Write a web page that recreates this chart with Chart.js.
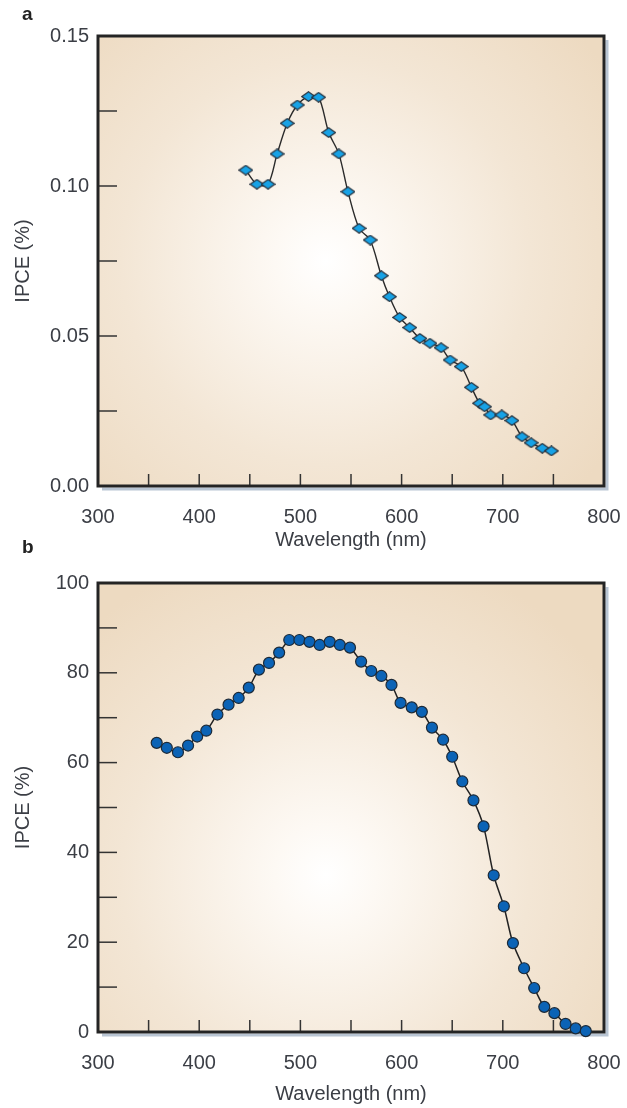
<!DOCTYPE html>
<html>
<head>
<meta charset="utf-8">
<script src="https://cdn.jsdelivr.net/npm/chart.js@4"></script>
<style>
  html, body { margin: 0; padding: 0; background: #fff; }
  body { width: 627px; height: 1108px; position: relative; overflow: hidden; }
  .panel { position: absolute; left: 0; width: 627px; }
  .tag { position: absolute; left: 22px; font: bold 19px "Liberation Sans", Arial, sans-serif; color: #222; }
</style>
</head>
<body>
<div class="panel" style="top:0;height:552px"><canvas id="chartA"></canvas></div>
<div class="panel" style="top:552px;height:556px"><canvas id="chartB"></canvas></div>
<div class="tag" style="top:3px">a</div>
<div class="tag" style="top:536px">b</div>
<script>
// ---- data ----
const wavelengthA = [446, 457, 468, 477, 487, 497, 508, 518, 528, 538, 547, 558, 569, 580, 588, 598,
                     608, 618, 628, 639, 648, 659, 669, 677, 682, 688, 699, 709, 719, 728, 739, 748];
const ipceA = [0.1053, 0.1006, 0.1006, 0.1107, 0.1209, 0.1270, 0.1298, 0.1296, 0.1178, 0.1107, 0.0981,
               0.0859, 0.0820, 0.0701, 0.0631, 0.0562, 0.0528, 0.0492, 0.0476, 0.0461, 0.0420, 0.0398,
               0.0329, 0.0276, 0.0264, 0.0237, 0.0237, 0.0218, 0.0164, 0.0144, 0.0126, 0.0117];

const wavelengthB = [358, 368, 379, 389, 398, 407, 418, 429, 439, 449, 459, 469, 479, 489, 499, 509,
                     519, 529, 539, 549, 560, 570, 580, 590, 599, 610, 620, 630, 641, 650, 660, 671,
                     681, 691, 701, 710, 721, 731, 741, 751, 762, 772, 782];
const ipceB = [64.4, 63.3, 62.3, 63.8, 65.8, 67.1, 70.7, 72.9, 74.4, 76.7, 80.7, 82.2, 84.5, 87.3, 87.3,
               86.9, 86.2, 86.9, 86.2, 85.6, 82.5, 80.4, 79.3, 77.3, 73.3, 72.3, 71.3, 67.8, 65.1, 61.3,
               55.8, 51.6, 45.8, 34.9, 28.0, 19.8, 14.2, 9.8, 5.6, 4.2, 1.8, 0.8, 0.2];

const xTicksMajor = [300, 400, 500, 600, 700, 800];

const FONT = { family: '"Liberation Sans", Arial, sans-serif', size: 20 };
const TEXT = '#3b3e45';

// diamond marker for panel a (slightly wider than tall)
function diamondMarker() {
    const c = document.createElement('canvas');
    c.width = 15; c.height = 11;
    const g = c.getContext('2d');
    g.beginPath();
    g.moveTo(7.5, 0.8); g.lineTo(14.2, 5.5); g.lineTo(7.5, 10.2); g.lineTo(0.8, 5.5);
    g.closePath();
    g.fillStyle = '#17a2e6';
    g.fill();
    g.lineWidth = 1.2;
    g.strokeStyle = '#26323e';
    g.stroke();
    return c;
}

// background gradient, framed border with shadow, inward tick marks
const framePlugin = {
    id: 'frame',
    beforeDraw(chart, args, opts) {
        const { ctx, chartArea: a } = chart;
        const cx = a.left + a.width * opts.cx, cy = a.top + a.height * opts.cy;
        const grad = ctx.createRadialGradient(cx, cy, 0, cx, cy, 340);
        grad.addColorStop(0, '#ffffff');
        grad.addColorStop(0.15, '#fdf9f4');
        grad.addColorStop(0.6, '#f3e6d5');
        grad.addColorStop(1, '#eddac1');
        ctx.save();
        ctx.fillStyle = grad;
        ctx.fillRect(a.left, a.top, a.width, a.height);
        ctx.restore();
    },
    beforeDatasetsDraw(chart, args, opts) {
        const { ctx, chartArea: a, scales } = chart;
        ctx.save();
        // shadow
        ctx.strokeStyle = '#b9c5d3';
        ctx.lineWidth = 3;
        ctx.beginPath();
        ctx.moveTo(a.right + 3, a.top + 4);
        ctx.lineTo(a.right + 3, a.bottom + 3);
        ctx.lineTo(a.left + 4, a.bottom + 3);
        ctx.stroke();
        // ticks
        ctx.strokeStyle = '#333';
        ctx.lineWidth = 1.5;
        scales.x.ticks.forEach(t => {
            const px = scales.x.getPixelForValue(t.value);
            if (px <= a.left + 2 || px >= a.right - 2) return;
            ctx.beginPath();
            ctx.moveTo(px, a.bottom);
            ctx.lineTo(px, a.bottom - opts.xTick);
            ctx.stroke();
        });
        scales.y.ticks.forEach(t => {
            const py = scales.y.getPixelForValue(t.value);
            if (py <= a.top + 2 || py >= a.bottom - 2) return;
            ctx.beginPath();
            ctx.moveTo(a.left, py);
            ctx.lineTo(a.left + opts.yTick, py);
            ctx.stroke();
        });
        // frame
        ctx.strokeStyle = '#242424';
        ctx.lineWidth = 3;
        ctx.strokeRect(a.left, a.top, a.width, a.height);
        ctx.restore();
    },
};

function makeOptions(cfg) {
    return {
        responsive: true,
        maintainAspectRatio: false,
        animation: false,
        layout: { padding: { top: cfg.top, right: 23, left: 0, bottom: 0 } },
        plugins: {
            legend: { display: false },
            tooltip: { enabled: false },
            frame: { cx: cfg.cx, cy: cfg.cy, xTick: 12, yTick: 19 },
        },
        scales: {
            x: {
                type: 'linear',
                min: 300, max: 800,
                afterFit: s => {
                    s.height = cfg.xHeight;
                    s.paddingLeft = 0;
                    s.paddingRight = 0;
                },
                ticks: {
                    stepSize: 50,
                    color: TEXT,
                    font: FONT,
                    padding: 19,
                    maxRotation: 0,
                    autoSkip: false,
                    callback: v => xTicksMajor.includes(v) ? String(v) : '',
                },
                grid: { display: false, drawTicks: false },
                border: { display: false },
                title: {
                    display: true,
                    text: 'Wavelength (nm)',
                    color: TEXT,
                    font: FONT,
                    padding: { top: 0, bottom: cfg.titlePad },
                },
            },
            y: {
                min: cfg.yMin, max: cfg.yMax,
                afterFit: s => {
                    s.width = 98;
                    s.paddingTop = 0;
                    s.paddingBottom = 0;
                },
                ticks: {
                    stepSize: cfg.yStep,
                    color: TEXT,
                    font: FONT,
                    padding: 9,
                    autoSkip: false,
                    callback: cfg.yLabel,
                },
                grid: { display: false, drawTicks: false },
                border: { display: false },
                title: {
                    display: true,
                    text: 'IPCE (%)',
                    color: TEXT,
                    font: FONT,
                    padding: { top: 11, bottom: 0 },
                },
            },
        },
    };
}

new Chart(document.getElementById('chartA'), {
    type: 'line',
    data: {
        datasets: [{
            data: wavelengthA.map((x, i) => ({ x, y: ipceA[i] })),
            borderColor: '#2a2a2a',
            borderWidth: 1.4,
            tension: 0.3,
            pointStyle: diamondMarker(),
            pointRadius: 6,
            clip: false,
        }],
    },
    options: makeOptions({
        top: 36, xHeight: 66, titlePad: 0, cx: 0.45, cy: 0.5,
        yMin: 0, yMax: 0.15, yStep: 0.025,
        yLabel: v => {
            const k = v / 0.05;
            return Math.abs(k - Math.round(k)) < 1e-6 ? v.toFixed(2) : '';
        },
    }),
    plugins: [framePlugin],
});

new Chart(document.getElementById('chartB'), {
    type: 'line',
    data: {
        datasets: [{
            data: wavelengthB.map((x, i) => ({ x, y: ipceB[i] })),
            borderColor: '#222',
            borderWidth: 1.5,
            tension: 0.3,
            pointStyle: 'circle',
            pointRadius: 5.5,
            pointBackgroundColor: '#0b63b6',
            pointBorderColor: '#1c2a38',
            pointBorderWidth: 1.2,
            clip: false,
        }],
    },
    options: makeOptions({
        top: 31, xHeight: 76, titlePad: 2, cx: 0.45, cy: 0.65,
        yMin: 0, yMax: 100, yStep: 10,
        yLabel: v => (v % 20 === 0 ? String(v) : ''),
    }),
    plugins: [framePlugin],
});
</script>
</body>
</html>
